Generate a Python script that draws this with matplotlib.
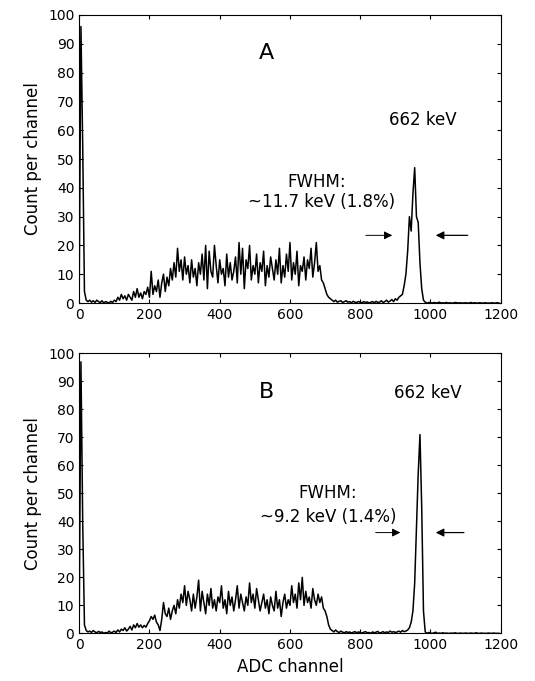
import numpy as np
import matplotlib.pyplot as plt

plt.rcParams['font.family'] = ['DejaVu Sans']

# channel grid (every 5 ADC channels)
chan = list(range(0, 1200, 5))

# spectrum A, counts per channel
counts_a = [
    3, 96, 55, 4, 1, 0.5, 1, 0.3, 0.8, 0.2, 1, 0.5, 0.2, 0.8, 0, 0.5, 0.3, 0, 0.6, 0.2,
    1, 0.5, 2, 1, 3, 1.5, 2.5, 1, 3, 2, 1, 4, 2, 5, 2, 3.5, 1.5, 4, 3, 5.5,
    2, 11, 3, 6, 4, 8, 2, 7, 10, 4, 9, 6, 12, 8, 14, 9, 19, 11, 15, 8,
    16, 10, 13, 7, 15, 9, 12, 6, 14, 10, 17, 8, 20, 5, 18, 11, 9, 20, 13, 7,
    15, 10, 12, 6, 17, 9, 14, 8, 11, 16, 7, 21, 10, 19, 5, 15, 12, 20, 8, 13,
    10, 17, 7, 14, 11, 18, 6, 13, 9, 16, 12, 8, 15, 10, 19, 7, 13, 9, 17, 11,
    21, 8, 14, 10, 18, 6, 13, 11, 16, 8, 15, 12, 19, 9, 14, 21, 11, 13, 8, 7,
    5, 3, 2, 1.5, 1, 0.5, 1, 0.3, 0.6, 0.8, 0.2, 0.5, 0.8, 0.3, 0.5, 0.1, 0.6, 0.3, 0.2, 0.5,
    0.3, 0.1, 0.5, 0.2, 0.4, 0, 0.3, 0.5, 0.1, 0.6, 0.2, 0.3, 0.8, 0.2, 0.5, 1, 0.3, 0.7, 1.2, 0.5,
    1.5, 1, 2, 2.5, 3, 6, 10, 18, 30, 25, 38, 47, 30, 28, 14, 5, 1, 0.3, 0, 0.2,
    0.1, 0, 0.2, 0, 0.1, 0.3, 0, 0.1, 0, 0.2, 0, 0.1, 0, 0, 0.2, 0.1, 0, 0.1, 0, 0,
    0.1, 0, 0, 0.2, 0, 0.1, 0, 0, 0.1, 0, 0, 0.1, 0, 0, 0, 0.1, 0, 0, 0.1, 0,
]

# spectrum B
counts_b = [
    3, 97, 40, 3, 1, 0.5, 0.8, 0.3, 1, 0.5, 0.2, 0.7, 0.3, 0.5, 0, 0.3, 0.1, 0.8, 0.2, 0.4,
    0.8, 0.3, 1.2, 0.5, 1.5, 1, 2, 0.8, 1.5, 2.5, 1.2, 3, 2, 3.5, 2.2, 3, 2, 2.8, 2.2, 3.5,
    4.5, 6, 5, 6.5, 4, 3, 1, 5, 11, 7, 6, 9, 5, 8, 10, 7, 12, 9, 14, 11,
    17, 10, 15, 12, 8, 14, 9, 13, 19, 8, 15, 11, 7, 14, 10, 16, 9, 12, 8, 13,
    11, 17, 9, 12, 7, 15, 10, 13, 8, 12, 17, 9, 14, 11, 8, 13, 10, 18, 11, 14,
    9, 16, 12, 8, 11, 14, 9, 12, 7, 13, 10, 8, 15, 9, 12, 6, 11, 14, 9, 12,
    10, 17, 11, 14, 9, 18, 12, 20, 10, 15, 11, 13, 9, 16, 12, 10, 14, 11, 13, 9,
    8, 6, 3, 1.5, 1, 0.5, 1.2, 0.6, 0.3, 0.8, 0.4, 0.2, 0.6, 0.3, 0.5, 0.1, 0.4, 0.6, 0.2, 0.5,
    0.3, 0.1, 0.4, 0.6, 0.2, 0.3, 0, 0.5, 0.2, 0.4, 0.7, 0.1, 0.3, 0.6, 0.2, 0.5, 0.3, 0.8, 0.4, 0.6,
    0.3, 0.5, 0.8, 0.4, 1, 0.6, 0.8, 1.2, 2, 4, 8, 18, 38, 57, 71, 45, 8, 0.5, 0, 0.3,
    0.1, 0, 0.2, 0.4, 0, 0.1, 0, 0.2, 0, 0.1, 0, 0, 0.1, 0, 0.2, 0, 0, 0.1, 0, 0,
    0.1, 0, 0, 0.1, 0, 0, 0.2, 0, 0, 0.1, 0, 0, 0, 0.1, 0, 0, 0.1, 0, 0, 0,
]

xticks = [0, 200, 400, 600, 800, 1000, 1200]
yticks = list(range(0, 101, 10))

fig = plt.figure(figsize=(5.35, 6.81), dpi=100)
ax1 = fig.add_axes([0.148, 0.555, 0.788, 0.423])
ax2 = fig.add_axes([0.148, 0.070, 0.788, 0.411])

panels = [
    (ax1, counts_a, 'A', (534, 86.8), (979, 63.5), (676, 42), '~11.7 keV (1.8%)', (690, 35.2),
     23.5, (808, 899), (1114, 1007)),
    (ax2, counts_b, 'B', (534, 86.4), (993, 85.8), (708, 50), '~9.2 keV (1.4%)', (708, 41.7),
     36, (836, 922), (1103, 1007)),
]

for ax, cts, lab, lab_xy, kev_xy, fw_xy, fw_txt, fw2_xy, ay, larr, rarr in panels:
    ax.plot(chan, cts, color='black', lw=1.1)
    ax.set_xlim(0, 1200)
    ax.set_ylim(0, 100)
    ax.set_xticks(xticks)
    ax.set_yticks(yticks)
    ax.tick_params(direction='in', top=True, right=True, length=3, labelsize=10)
    ax.set_ylabel('Count per channel', fontsize=12)
    ax.text(*lab_xy, lab, fontsize=16, ha='center', va='center')
    ax.text(*kev_xy, '662 keV', fontsize=12, ha='center', va='center')
    ax.text(*fw_xy, 'FWHM:', fontsize=12, ha='center', va='center')
    ax.text(*fw2_xy, fw_txt, fontsize=12, ha='center', va='center')
    ax.annotate('', xy=(larr[1], ay), xytext=(larr[0], ay),
                arrowprops=dict(arrowstyle='-|>', color='black', lw=0.7, mutation_scale=12))
    ax.annotate('', xy=(rarr[1], ay), xytext=(rarr[0], ay),
                arrowprops=dict(arrowstyle='-|>', color='black', lw=0.9, mutation_scale=12))

ax2.set_xlabel('ADC channel', fontsize=12)

fig.savefig('out.png', dpi=100)
